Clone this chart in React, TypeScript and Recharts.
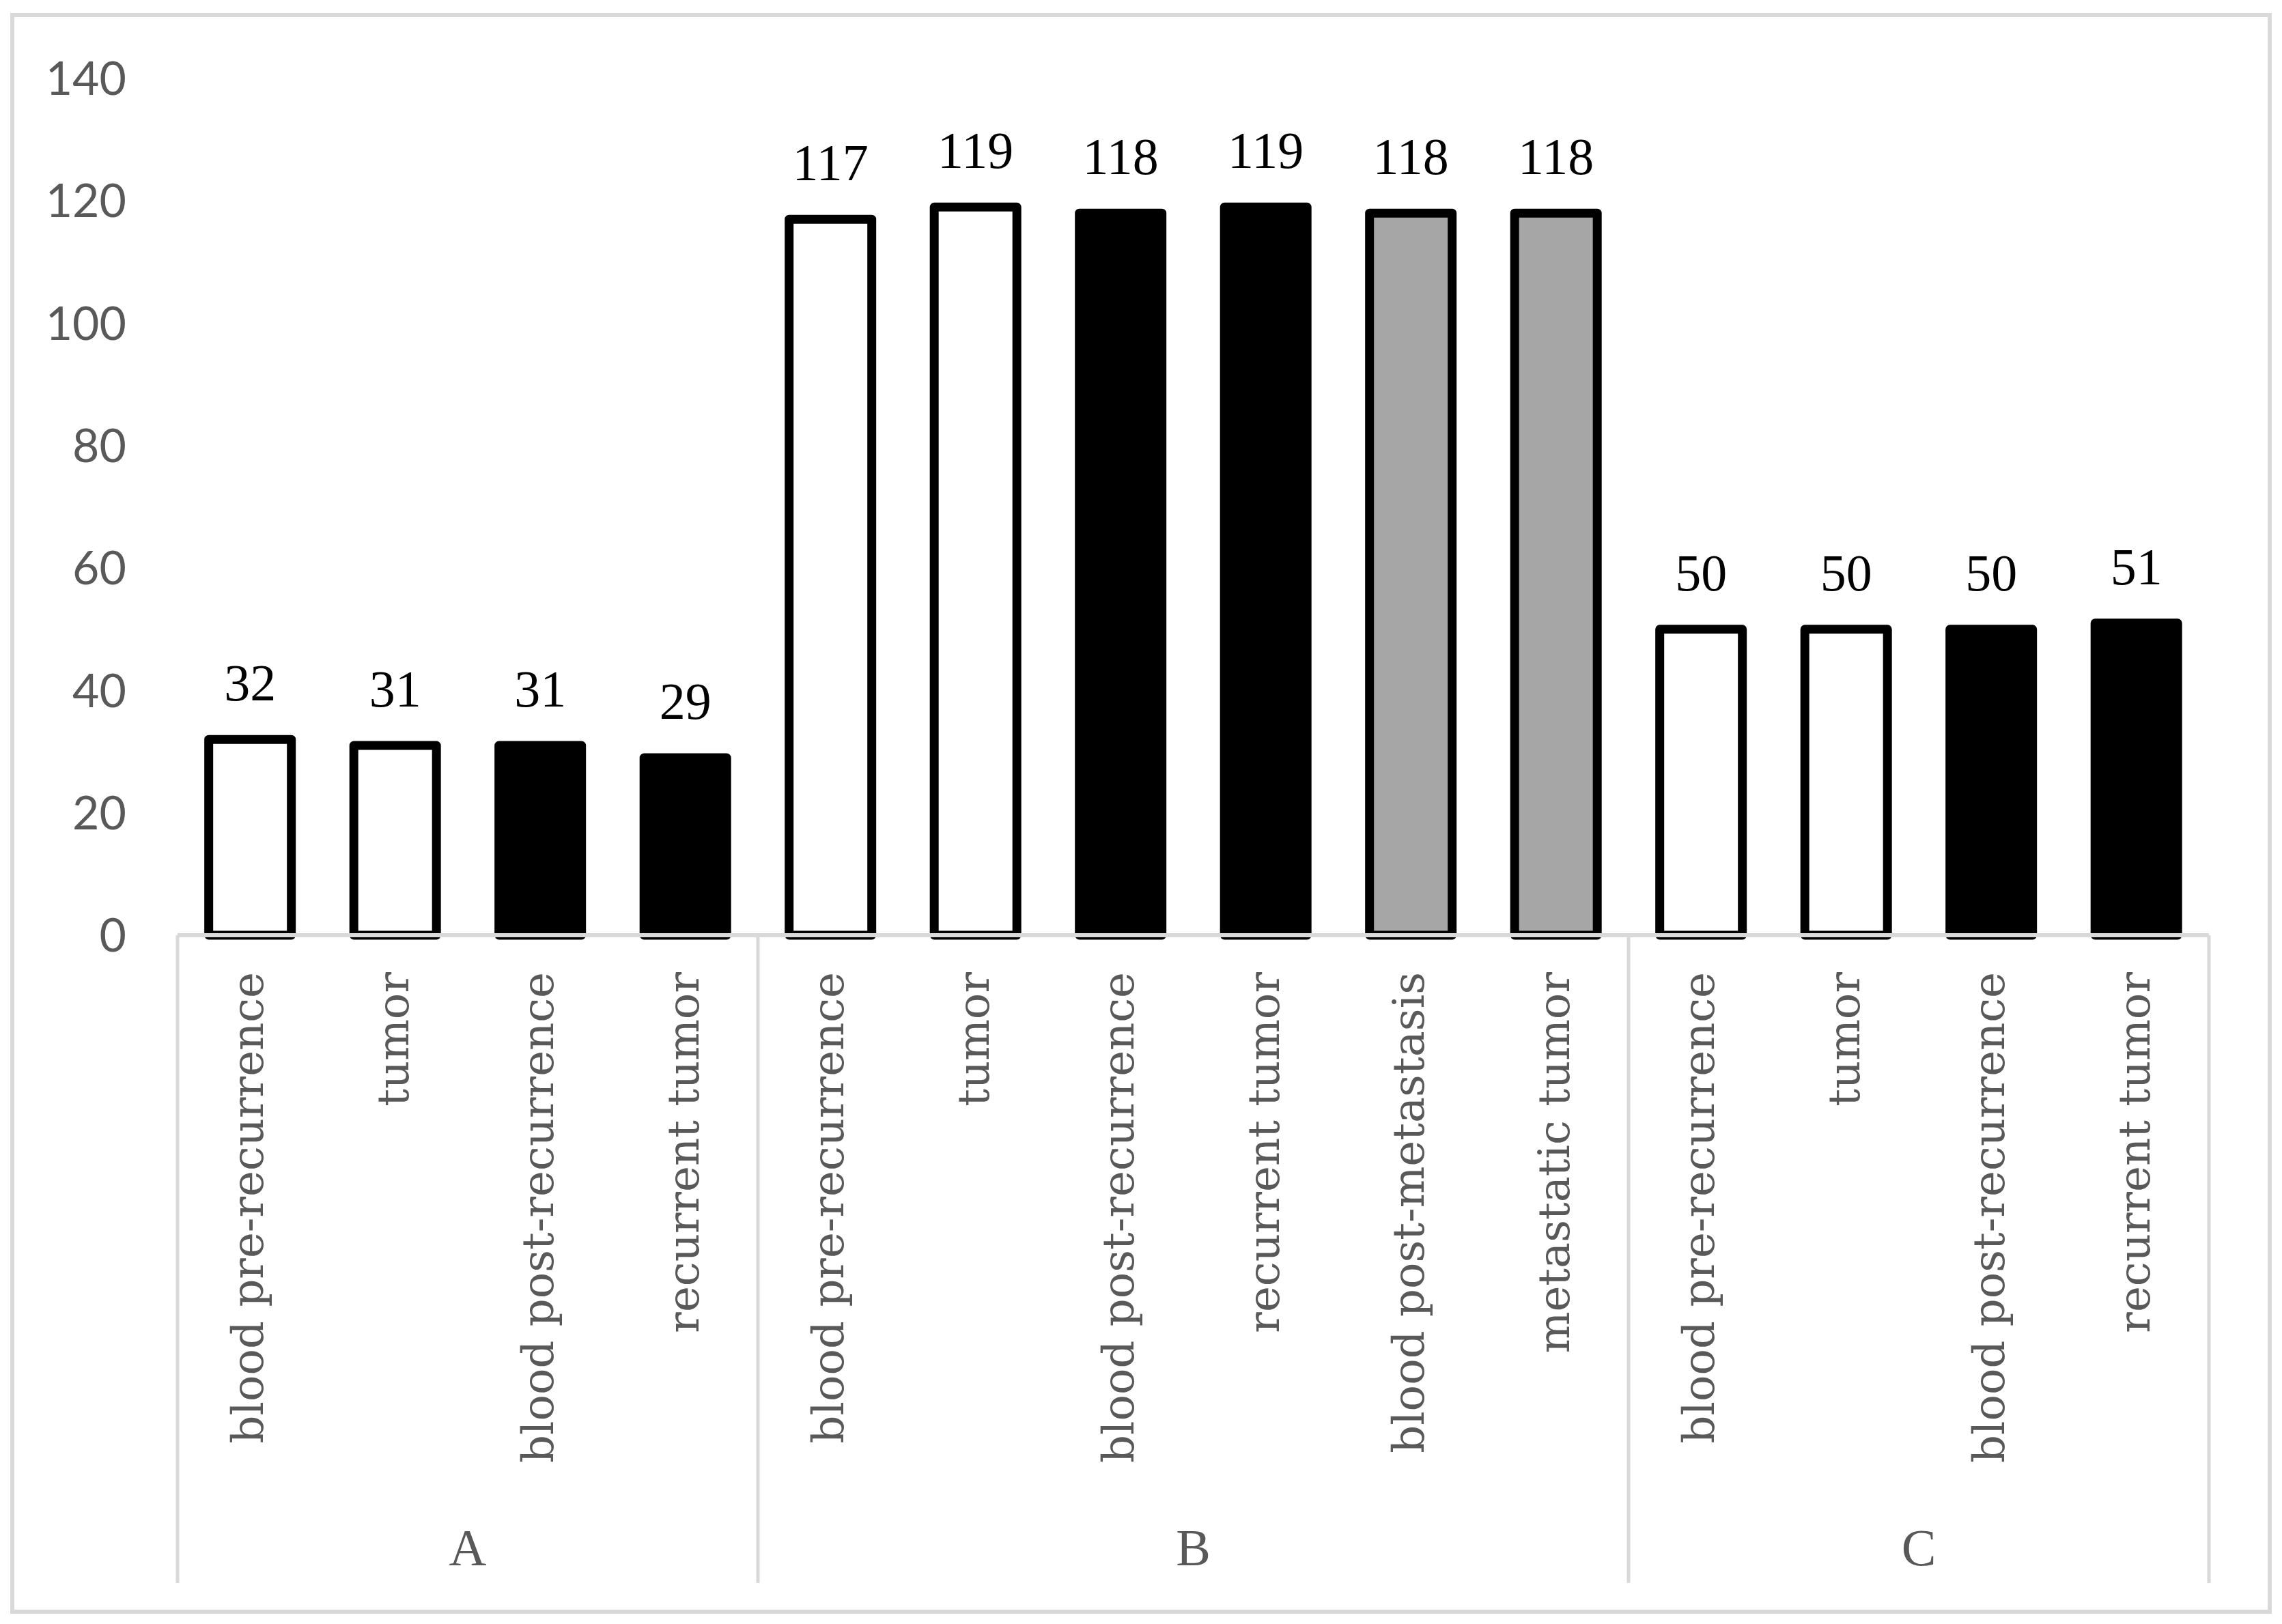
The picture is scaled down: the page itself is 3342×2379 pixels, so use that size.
import React from 'react';
import { BarChart, Bar, XAxis, YAxis, Cell, LabelList } from 'recharts';

const categories = [
  'blood pre-recurrence',
  'tumor',
  'blood post-recurrence',
  'recurrent tumor',
  'blood pre-recurrence',
  'tumor',
  'blood post-recurrence',
  'recurrent tumor',
  'blood post-metastasis',
  'metastatic tumor',
  'blood pre-recurrence',
  'tumor',
  'blood post-recurrence',
  'recurrent tumor',
];

const groups = ['A', 'A', 'A', 'A', 'B', 'B', 'B', 'B', 'B', 'B', 'C', 'C', 'C', 'C'];

const values = [32, 31, 31, 29, 117, 119, 118, 119, 118, 118, 50, 50, 50, 51];

// stage of the sample: primary, recurrence, metastasis
const stages = ['pri', 'pri', 'rec', 'rec', 'pri', 'pri', 'rec', 'rec', 'met', 'met', 'pri', 'pri', 'rec', 'rec'];

const yTicks = [0, 20, 40, 60, 80, 100, 120, 140];

const stageFill: Record<string, string> = {
  pri: '#ffffff',
  rec: '#000000',
  met: '#a6a6a6',
};

const W = 3342;
const H = 2379;
const PLOT_LEFT = 260;
const PLOT_RIGHT = 3235;
const PLOT_TOP = 115;
const AXIS_Y = 1370;
const X_AXIS_H = 950;
const BAND = (PLOT_RIGHT - PLOT_LEFT) / categories.length;

const data = categories.map((name, i) => ({
  key: `${groups[i]}-${i}`,
  name,
  group: groups[i],
  value: values[i],
  stage: stages[i],
}));

const GREY = '#595959';
const LINE = '#d9d9d9';

const CategoryTick = (props: any) => {
  const { x, y, payload } = props;
  const i = payload.index;
  const band = payload.offset ? payload.offset * 2 : BAND;
  const g = groups[i];
  const first = i === 0 || groups[i - 1] !== g;
  const last = i === groups.length - 1;
  const size = groups.filter((v) => v === g).length;
  const ly = y + 54;
  return (
    <g>
      <text
        x={x}
        y={ly}
        transform={`rotate(-90, ${x}, ${ly})`}
        textAnchor="end"
        dy="0.3em"
        fill={GREY}
        fontSize={64}
        fontFamily="DejaVu Serif"
      >
        {categories[i]}
      </text>
      {first && (
        <line x1={x - band / 2} y1={y} x2={x - band / 2} y2={2319} stroke={LINE} strokeWidth={5} />
      )}
      {last && (
        <line x1={x + band / 2} y1={y} x2={x + band / 2} y2={2319} stroke={LINE} strokeWidth={5} />
      )}
      {first && (
        <text
          x={x + ((size - 1) / 2) * band}
          y={2266}
          textAnchor="middle"
          dy="0.35em"
          fill={GREY}
          fontSize={76}
          fontFamily="Liberation Serif"
        >
          {g}
        </text>
      )}
    </g>
  );
};

export default function App() {
  return (
    <div
      style={{
        position: 'absolute',
        left: 0,
        top: 0,
        width: W,
        height: H,
        background: '#fff',
        fontFamily: 'Liberation Serif',
      }}
    >
      <div
        style={{
          position: 'absolute',
          left: 15,
          top: 19,
          width: 3327 - 15,
          height: 2364 - 19,
          border: `6px solid ${LINE}`,
          boxSizing: 'border-box',
        }}
      />
      <div style={{ position: 'absolute', left: 0, top: 0 }}>
        <BarChart
          width={W}
          height={H}
          data={data}
          margin={{
            top: PLOT_TOP,
            right: W - PLOT_RIGHT,
            left: 0,
            bottom: H - AXIS_Y - X_AXIS_H,
          }}
          barCategoryGap="21.5%"
        >
          <XAxis
            dataKey="key"
            interval={0}
            height={X_AXIS_H}
            tickLine={false}
            tickSize={0}
            tickMargin={0}
            axisLine={{ stroke: LINE, strokeWidth: 6 }}
            tick={<CategoryTick />}
          />
          <YAxis
            domain={[0, 140]}
            ticks={yTicks}
            width={PLOT_LEFT}
            axisLine={false}
            tickLine={false}
            tickSize={0}
            tickMargin={75}
            tick={{ fill: GREY, fontSize: 68, fontFamily: 'Lato' }}
          />
          <Bar
            dataKey="value"
            stroke="#000"
            strokeWidth={13}
            strokeLinejoin="round"
            isAnimationActive={false}
          >
            {data.map((d, i) => (
              <Cell key={`cell-${i}`} fill={stageFill[d.stage]} stroke="#000" />
            ))}
            <LabelList
              dataKey="value"
              position="top"
              offset={57}
              fill="#000"
              fontSize={76}
              fontFamily="Liberation Serif"
            />
          </Bar>
        </BarChart>
      </div>
    </div>
  );
}
